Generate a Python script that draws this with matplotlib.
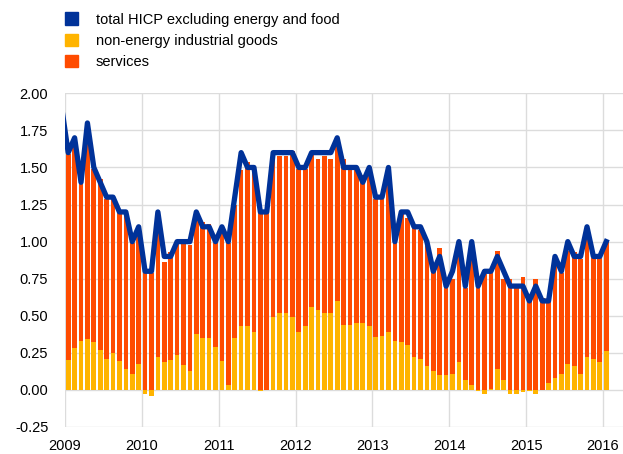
import numpy as np
import matplotlib
matplotlib.use('Agg')
import matplotlib.pyplot as plt
from matplotlib.patches import Patch

plt.rcParams['font.family'] = ['Liberation Sans', 'DejaVu Sans']

# monthly data, Jan 2009 - Jan 2016 (percentage points / annual % change)
goods = [0.20, 0.285, 0.33, 0.34, 0.32, 0.27, 0.21, 0.25, 0.195, 0.14, 0.11, 0.175,
         -0.03, -0.04, 0.225, 0.185, 0.20, 0.235, 0.17, 0.13, 0.38, 0.35, 0.35, 0.29,
         0.195, 0.03, 0.35, 0.43, 0.43, 0.39, -0.01, 0.0, 0.49, 0.52, 0.52, 0.49,
         0.39, 0.43, 0.56, 0.54, 0.52, 0.52, 0.60, 0.44, 0.44, 0.45, 0.45, 0.43,
         0.36, 0.365, 0.39, 0.33, 0.32, 0.30, 0.22, 0.21, 0.16, 0.13, 0.10, 0.10,
         0.11, 0.19, 0.07, 0.03, -0.01, -0.025, 0.005, 0.14, 0.07, -0.03, -0.03, -0.015,
         -0.01, -0.025, 0.0, 0.05, 0.08, 0.11, 0.175, 0.16, 0.105, 0.22, 0.21, 0.185,
         0.26]
services = [1.39, 1.37, 1.06, 1.41, 1.17, 1.15, 1.08, 1.04, 1.00, 1.05, 0.88, 0.93,
            0.79, 0.79, 0.97, 0.68, 0.73, 0.755, 0.82, 0.85, 0.77, 0.78, 0.77, 0.70,
            0.905, 0.96, 0.90, 1.05, 1.11, 1.11, 1.20, 1.19, 1.12, 1.06, 1.06, 1.12,
            1.10, 1.06, 1.04, 1.02, 1.06, 1.035, 1.10, 1.12, 1.05, 1.04, 1.00, 1.07,
            0.93, 0.925, 1.10, 0.66, 0.87, 0.86, 0.87, 0.87, 0.81, 0.67, 0.855, 0.60,
            0.64, 0.80, 0.615, 0.96, 0.685, 0.78, 0.785, 0.80, 0.68, 0.745, 0.70, 0.76,
            0.63, 0.745, 0.62, 0.55, 0.81, 0.68, 0.765, 0.77, 0.775, 0.86, 0.68, 0.705,
            0.74]
# total HICP excluding energy and food, Dec 2008 - Jan 2016
hicp = [1.9,
        1.6, 1.7, 1.4, 1.8, 1.5, 1.4, 1.3, 1.3, 1.2, 1.2, 1.0, 1.1,
        0.8, 0.8, 1.2, 0.9, 0.9, 1.0, 1.0, 1.0, 1.2, 1.1, 1.1, 1.0,
        1.1, 1.0, 1.3, 1.6, 1.5, 1.5, 1.2, 1.2, 1.6, 1.6, 1.6, 1.6,
        1.5, 1.5, 1.6, 1.6, 1.6, 1.6, 1.7, 1.5, 1.5, 1.5, 1.4, 1.5,
        1.3, 1.3, 1.5, 1.0, 1.2, 1.2, 1.1, 1.1, 1.0, 0.8, 0.9, 0.7,
        0.8, 1.0, 0.7, 1.0, 0.7, 0.8, 0.8, 0.9, 0.8, 0.7, 0.7, 0.7,
        0.6, 0.7, 0.6, 0.6, 0.9, 0.8, 1.0, 0.9, 0.9, 1.1, 0.9, 0.9,
        1.0]
years = list(range(2009, 2017))

blue = '#003299'
yellow = '#ffb400'
orange = '#ff4b00'

goods = np.array(goods)
services = np.array(services)
n = len(goods)
x = 2009 + (np.arange(n) + 0.5) / 12
x_line = 2009 + (np.arange(-1, n) + 0.5) / 12

fig = plt.figure(figsize=(6.23, 4.54), dpi=100)
ax = fig.add_axes([65 / 623, 27 / 454, 558 / 623, 333.7 / 454])

w = 0.73 / 12
ax.bar(x, goods, width=w, color=yellow, zorder=2)
ax.bar(x, services, width=w, bottom=np.clip(goods, 0, None), color=orange, zorder=2)
ax.plot(x_line, hicp, color=blue, lw=3.8, solid_joinstyle='round', zorder=3)

ax.set_xlim(2009, 2016.26)
ax.set_ylim(-0.25, 2.0)
ax.set_yticks(np.arange(-0.25, 2.01, 0.25))
ax.set_yticklabels(['%.2f' % v for v in np.arange(-0.25, 2.01, 0.25)])
ax.set_xticks(years)
ax.set_xticklabels([str(y) for y in years])
ax.tick_params(length=0, labelsize=10.5, colors='black')
ax.tick_params(axis='y', pad=12)
ax.tick_params(axis='x', pad=9)
ax.grid(True, color='#dcdcdc', lw=1, zorder=0)
ax.set_axisbelow(True)
for s in ax.spines.values():
    s.set_visible(False)

handles = [Patch(color=blue), Patch(color=yellow), Patch(color=orange)]
labels = ['total HICP excluding energy and food', 'non-energy industrial goods', 'services']
fig.legend(handles, labels, loc='upper left', bbox_to_anchor=(65 / 623, 1 - 12.5 / 454),
           frameon=False, fontsize=10.5, handlelength=0.9, handleheight=0.9,
           handletextpad=1.2, labelspacing=0.5, borderpad=0, borderaxespad=0)

fig.savefig('out.png', dpi=100)
